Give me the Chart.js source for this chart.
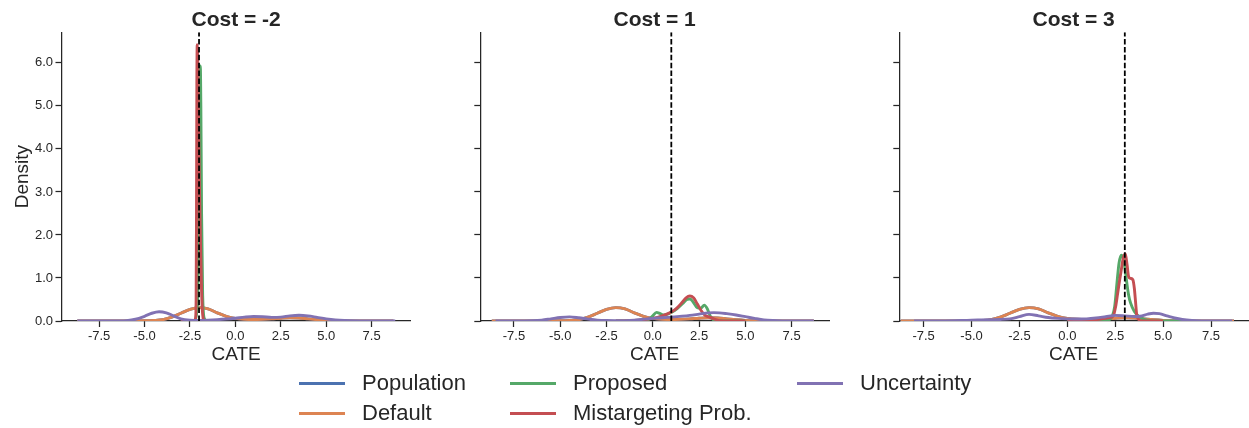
<!DOCTYPE html>
<html>
<head>
<meta charset="utf-8">
<title>CATE density by cost</title>
<script src="https://cdn.jsdelivr.net/npm/chart.js@4.4.1/dist/chart.umd.min.js"></script>
<style>
  html, body { margin: 0; padding: 0; background: #ffffff; }
  #fig { position: relative; width: 1249px; height: 428px; overflow: hidden;
         font-family: "Liberation Sans", Arial, Helvetica, sans-serif; color: #262626; }
  .panel { position: absolute; top: 0; }
  .lg-item { position: absolute; height: 30px; line-height: 30px; font-size: 22px; white-space: nowrap; }
  .lg-line { position: absolute; top: 13.5px; width: 46px; height: 3px; }
  .lg-text { position: absolute; left: 63px; top: 0; }
</style>
</head>
<body>
<div id="fig">
  <canvas class="panel" id="panel0"></canvas>
  <canvas class="panel" id="panel1"></canvas>
  <canvas class="panel" id="panel2"></canvas>
  <div id="legend"></div>
</div>
<script>
// ---- data -------------------------------------------------------------
const costs = [-2, 1, 3];
const seriesNames = ['Population', 'Default', 'Proposed', 'Mistargeting Prob.', 'Uncertainty'];
const densityTickStep = 1;
const cateTickStep = 2.5;

// Population density of the CATE (identical in every panel)
const populationX = [-8.7, -7.0, -6.0, -5.0, -4.5, -4.0, -3.5, -3.0, -2.5, -2.0, -1.5, -1.0, -0.5, 0.0,
                     0.5, 1.0, 1.5, 2.0, 2.5, 3.0, 3.5, 4.0, 4.5, 5.0, 5.5, 6.0, 7.0, 8.7];
const populationY = [0, 0, 0.002, 0.005, 0.012, 0.03, 0.09, 0.18, 0.27, 0.31, 0.28, 0.19, 0.11, 0.06,
                     0.04, 0.035, 0.04, 0.05, 0.065, 0.075, 0.07, 0.05, 0.03, 0.015, 0.006, 0.002, 0, 0];

// Default policy density
const defaultX = [-8.7, -7.0, -6.0, -5.0, -4.5, -4.0, -3.5, -3.0, -2.5, -2.0, -1.5, -1.0, -0.5, 0.0,
                  0.5, 1.0, 1.5, 2.0, 2.5, 3.0, 3.5, 4.0, 4.5, 5.0, 5.5, 6.0, 7.0, 8.7];
const defaultY = [0, 0, 0.002, 0.005, 0.012, 0.03, 0.09, 0.18, 0.27, 0.31, 0.28, 0.19, 0.11, 0.06,
                  0.04, 0.035, 0.04, 0.05, 0.065, 0.075, 0.07, 0.05, 0.03, 0.015, 0.006, 0.002, 0, 0];

// Cost = -2
const proposedX_m2 = [-3.0, -2.3, -2.1, -2.02, -1.97, -1.93, -1.9, -1.86, -1.8, -1.7, -1.55, -1.0];
const proposedY_m2 = [0, 0, 0.3, 2.0, 4.6, 5.93, 5.0, 2.5, 0.6, 0.05, 0, 0];
const mistargetX_m2 = [-3.0, -2.3, -2.2, -2.16, -2.14, -2.12, -2.1, -2.07, -2.03, -1.98, -1.92, -1.86, -1.8, -1.7, -1.5, -1.0];
const mistargetY_m2 = [0, 0, 0.05, 0.5, 2.5, 5.5, 6.42, 6.0, 4.8, 3.2, 1.8, 0.7, 0.15, 0, 0, 0];
const uncertaintyX_m2 = [-8.7, -7.5, -6.5, -6.0, -5.5, -5.0, -4.6, -4.2, -3.8, -3.4, -3.0, -2.5, -2.0, -1.5, -1.0, -0.5,
                         0.0, 0.5, 1.0, 1.5, 2.0, 2.5, 3.0, 3.5, 4.0, 4.5, 5.0, 5.5, 6.0, 7.0, 8.0, 8.8];
const uncertaintyY_m2 = [0, 0, 0.003, 0.01, 0.04, 0.11, 0.18, 0.215, 0.19, 0.12, 0.05, 0.02, 0.015, 0.02, 0.03, 0.045,
                         0.065, 0.09, 0.105, 0.1, 0.085, 0.09, 0.12, 0.135, 0.12, 0.085, 0.05, 0.025, 0.012, 0.003, 0, 0];

// Cost = 1
const proposedX_1 = [-2.0, -0.6, -0.2, 0.0, 0.2, 0.4, 0.6, 0.8, 1.0, 1.3, 1.6, 1.85, 2.0, 2.15, 2.4, 2.6, 2.78, 2.95, 3.1, 3.3, 3.6, 5.0];
const proposedY_1 = [0, 0.005, 0.04, 0.12, 0.2, 0.17, 0.14, 0.16, 0.2, 0.28, 0.4, 0.5, 0.51, 0.46, 0.31, 0.3, 0.37, 0.28, 0.12, 0.02, 0, 0];
const mistargetX_1 = [-2.0, -1.0, -0.5, 0.0, 0.5, 1.0, 1.3, 1.6, 1.8, 2.0, 2.2, 2.4, 2.6, 2.8, 3.0, 3.3, 3.6, 4.0, 5.0];
const mistargetY_1 = [0, 0.01, 0.03, 0.06, 0.12, 0.21, 0.3, 0.44, 0.54, 0.58, 0.54, 0.4, 0.25, 0.14, 0.1, 0.05, 0.01, 0, 0];
const uncertaintyX_1 = [-8.5, -7.0, -6.5, -6.0, -5.5, -5.0, -4.5, -4.0, -3.5, -3.0, -2.5, -2.0, -1.0, 0.0, 1.0, 2.0,
                        2.5, 3.0, 3.3, 3.6, 4.0, 4.5, 5.0, 5.5, 6.0, 6.5, 7.0, 8.7];
const uncertaintyY_1 = [0, 0.002, 0.006, 0.02, 0.05, 0.08, 0.095, 0.075, 0.045, 0.02, 0.01, 0.008, 0.02, 0.06, 0.09, 0.13,
                        0.16, 0.19, 0.195, 0.19, 0.17, 0.14, 0.1, 0.06, 0.025, 0.01, 0.004, 0];

// Cost = 3
const proposedX_3 = [0.0, 1.5, 2.0, 2.2, 2.35, 2.47, 2.59, 2.7, 2.82, 2.92, 3.0, 3.1, 3.2, 3.3, 3.5, 3.75, 4.0, 4.3, 4.6, 6.0];
const proposedY_3 = [0, 0.005, 0.015, 0.03, 0.12, 0.33, 0.88, 1.35, 1.53, 1.45, 1.25, 0.9, 0.6, 0.42, 0.22, 0.1, 0.04, 0.01, 0, 0];
const mistargetX_3 = [0.0, 1.0, 1.8, 2.2, 2.4, 2.52, 2.62, 2.73, 2.82, 2.9, 2.97, 3.03, 3.12, 3.2, 3.3, 3.42, 3.5, 3.56, 3.62, 3.7, 3.85, 5.0];
const mistargetY_3 = [0, 0.01, 0.05, 0.08, 0.12, 0.33, 0.62, 0.95, 1.2, 1.42, 1.53, 1.56, 1.3, 1.03, 0.99, 0.96, 0.75, 0.45, 0.15, 0.05, 0, 0];
const uncertaintyX_3 = [-8.0, -6.5, -5.5, -5.0, -4.5, -4.0, -3.5, -3.0, -2.5, -2.0, -1.5, -1.0, -0.5, 0.0, 0.5, 1.0,
                        1.5, 2.0, 2.5, 3.0, 3.5, 3.8, 4.2, 4.5, 4.8, 5.2, 5.6, 6.0, 6.5, 7.0, 8.6];
const uncertaintyY_3 = [0, 0.003, 0.01, 0.02, 0.025, 0.03, 0.035, 0.05, 0.1, 0.155, 0.12, 0.08, 0.06, 0.05, 0.045, 0.05,
                        0.07, 0.1, 0.13, 0.12, 0.105, 0.11, 0.16, 0.18, 0.17, 0.12, 0.07, 0.035, 0.012, 0.004, 0];

// ---- styling / layout --------------------------------------------------
const seriesColors = ['#4C72B0', '#DD8452', '#55A868', '#C44E52', '#8172B3'];
const ink = '#262626';
const fontFamily = '"Liberation Sans", Arial, Helvetica, sans-serif';
const densityMax = 6.71;
const cateLimits = [[-9.57, 9.65], [-9.32, 9.52], [-8.77, 9.43]];
// canvas left edge, canvas width, axes left and right inside the canvas
const panelBoxes = [
  { left: 0,   width: 420, axisLeft: 61.5, axisRight: 410.7 },
  { left: 420, width: 420, axisLeft: 60.3, axisRight: 409.0 },
  { left: 840, width: 409, axisLeft: 59.3, axisRight: 408.0 }
];
const canvasHeight = 370;
const xAxisHeight = 49;

const panelSeries = [
  [[populationX, populationY], [defaultX, defaultY], [proposedX_m2, proposedY_m2], [mistargetX_m2, mistargetY_m2], [uncertaintyX_m2, uncertaintyY_m2]],
  [[populationX, populationY], [defaultX, defaultY], [proposedX_1, proposedY_1], [mistargetX_1, mistargetY_1], [uncertaintyX_1, uncertaintyY_1]],
  [[populationX, populationY], [defaultX, defaultY], [proposedX_3, proposedY_3], [mistargetX_3, mistargetY_3], [uncertaintyX_3, uncertaintyY_3]]
];

function toPoints(xs, ys) {
  return xs.map((x, i) => ({ x: x, y: ys[i] }));
}

Chart.defaults.font.family = fontFamily;
Chart.defaults.color = ink;

function buildPanel(idx) {
  const box = panelBoxes[idx];
  const canvas = document.getElementById('panel' + idx);
  canvas.width = box.width;
  canvas.height = canvasHeight;
  canvas.style.left = box.left + 'px';
  canvas.style.width = box.width + 'px';
  canvas.style.height = canvasHeight + 'px';

  const datasets = panelSeries[idx].map((s, k) => ({
    label: seriesNames[k],
    data: toPoints(s[0], s[1]),
    showLine: true,
    borderColor: seriesColors[k],
    backgroundColor: seriesColors[k],
    borderWidth: 2.9,
    borderJoinStyle: 'round',
    pointRadius: 0,
    pointHoverRadius: 0,
    cubicInterpolationMode: 'monotone',
    clip: { left: 0, top: 0, right: 0, bottom: 0 },
    order: seriesNames.length - k
  }));
  // vertical reference line at the cost value
  datasets.push({
    label: 'cost',
    data: [{ x: costs[idx], y: 0 }, { x: costs[idx], y: densityMax }],
    showLine: true,
    borderColor: '#000000',
    borderWidth: 1.8,
    borderDash: [5.5, 2.4],
    pointRadius: 0,
    pointHoverRadius: 0,
    clip: { left: 0, top: 0, right: 0, bottom: 0 },
    order: 0
  });

  const showDensityLabels = idx === 0;

  return new Chart(canvas, {
    type: 'scatter',
    data: { datasets: datasets },
    options: {
      responsive: false,
      animation: false,
      devicePixelRatio: 1,
      events: [],
      layout: { padding: { left: 0, right: box.width - box.axisRight, top: 0, bottom: 0 } },
      plugins: {
        legend: { display: false },
        tooltip: { enabled: false },
        title: {
          display: true,
          text: 'Cost = ' + costs[idx],
          fullSize: false,
          color: ink,
          font: { family: fontFamily, size: 21, weight: 'bold', lineHeight: 1.0 },
          padding: { top: 10, bottom: 1.3 }
        }
      },
      scales: {
        x: {
          type: 'linear',
          min: cateLimits[idx][0],
          max: cateLimits[idx][1],
          z: 1,
          border: { display: true, color: ink, width: 1.25 },
          grid: { drawOnChartArea: false, drawTicks: true, tickLength: 6, tickColor: ink, tickWidth: 1.25 },
          ticks: {
            stepSize: cateTickStep,
            includeBounds: false,
            autoSkip: false,
            maxRotation: 0,
            padding: 2,
            color: ink,
            font: { size: 13 },
            callback: (v) => Number(v).toFixed(1)
          },
          title: {
            display: true,
            text: 'CATE',
            color: ink,
            font: { size: 19 },
            padding: { top: 0, bottom: 4 }
          },
          afterFit: (scale) => { scale.height = xAxisHeight; }
        },
        y: {
          type: 'linear',
          min: 0,
          max: densityMax,
          z: 1,
          border: { display: true, color: ink, width: 1.25 },
          grid: { drawOnChartArea: false, drawTicks: true, tickLength: 6, tickColor: ink, tickWidth: 1.25 },
          ticks: {
            stepSize: densityTickStep,
            includeBounds: false,
            padding: 2.5,
            color: ink,
            font: { size: 13 },
            callback: (v) => showDensityLabels ? Number(v).toFixed(1) : ''
          },
          title: {
            display: showDensityLabels,
            text: 'Density',
            color: ink,
            font: { size: 19 },
            padding: { top: 11, bottom: 0 }
          },
          afterFit: (scale) => { scale.width = box.axisLeft; }
        }
      }
    }
  });
}

[0, 1, 2].forEach(buildPanel);

// ---- figure legend (three columns, filled column-wise) ----------------
const legendColumns = [299, 510, 797];
const legendRows = [383, 413];
const legendHost = document.getElementById('legend');
seriesNames.forEach((name, k) => {
  const col = Math.floor(k / 2);
  const row = k % 2;
  const item = document.createElement('div');
  item.className = 'lg-item';
  item.style.left = legendColumns[col] + 'px';
  item.style.top = (legendRows[row] - 15) + 'px';
  const line = document.createElement('div');
  line.className = 'lg-line';
  line.style.background = seriesColors[k];
  const text = document.createElement('span');
  text.className = 'lg-text';
  text.textContent = name;
  item.appendChild(line);
  item.appendChild(text);
  legendHost.appendChild(item);
});
</script>
</body>
</html>
